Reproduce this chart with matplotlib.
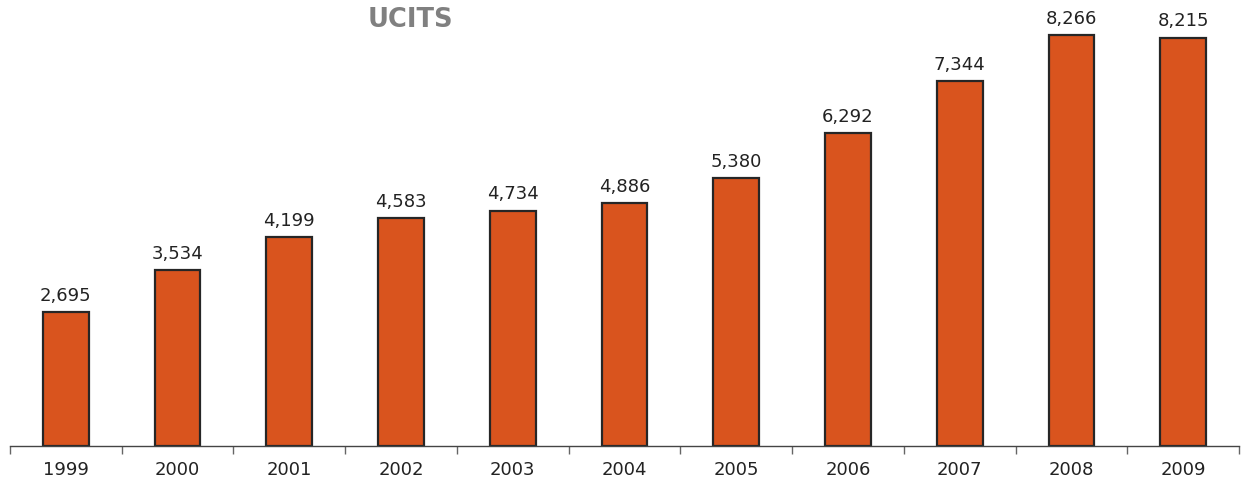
import numpy as np
import matplotlib.pyplot as plt

annees = ['1999', '2000', '2001', '2002', '2003', '2004', '2005', '2006', '2007', '2008', '2009']
valeurs = [2695, 3534, 4199, 4583, 4734, 4886, 5380, 6292, 7344, 8266, 8215]

fig = plt.figure(figsize=(12.46, 4.81), dpi=100)
ax = fig.add_axes([10 / 1246, 34 / 481, 1229 / 1246, 447 / 481])

x = np.arange(len(annees))
barres = ax.bar(x, valeurs, width=0.41, color='#D9541E', edgecolor='#262626', linewidth=1.6)

# étiquettes de valeur au-dessus des barres
for xi, v in zip(x, valeurs):
    ax.annotate('{:,}'.format(v), (xi, v), xytext=(0, 6), textcoords='offset points',
                ha='center', va='bottom', fontsize=13, color='#222222')

ax.set_xlim(-0.5, len(annees) - 0.5)
ax.set_ylim(0, 8990)
ax.set_xticks(x)
ax.set_xticklabels(annees, fontsize=13, color='#222222')
ax.set_xticks(np.arange(-0.5, len(annees)), minor=True)
ax.tick_params(axis='x', which='major', length=0, pad=10)
ax.tick_params(axis='x', which='minor', length=6, color='#666666', width=1)
ax.set_yticks([])
for s in ['top', 'right', 'left']:
    ax.spines[s].set_visible(False)
ax.spines['bottom'].set_color('#444444')
ax.spines['bottom'].set_linewidth(1)
ax.patch.set_alpha(0)

fig.text(410 / 1246, 1 - 20 / 481, 'UCITS', ha='center', va='center',
         fontsize=18.5, fontweight='bold', color='#808080')

fig.savefig('out.png', dpi=100)
